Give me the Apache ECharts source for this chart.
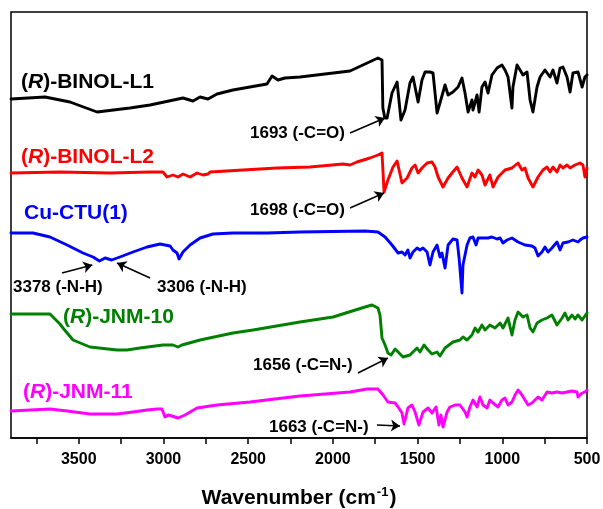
<!DOCTYPE html>
<html>
<head>
<meta charset="utf-8">
<script src="https://cdn.jsdelivr.net/npm/echarts@6/dist/echarts.min.js"></script>
<style>
  html, body { margin: 0; padding: 0; background: #fff; }
  #chart { width: 603px; height: 509px; }
</style>
</head>
<body>
<div id="chart"></div>
<script>
const FONT = 'Arial, "Liberation Sans", sans-serif';

// FTIR spectra: wavenumber (cm-1) and vertically offset transmittance (a.u.)
const wnL1 = [3900,3699,3552,3392,3198,3079,2885,2826,2784,2737,2684,2590,2389,2359,2324,2283,2194,1899,1810,1734,1710,1705,1693,1680,1651,1621,1598,1574,1545,1527,1497,1474,1456,1427,1409,1385,1368,1338,1320,1291,1261,1238,1220,1202,1179,1173,1149,1137,1120,1102,1084,1061,1031,1002,984,966,943,937,913,895,878,854,836,819,795,777,748,718,701,677,659,642,618,600,583,553,529,512,500];
const tL1 = [339,341,336,326,330,333,340,337,341,339,344,348,354,362,358,360,361,367,374,380,378,330,320,320,345,356,318,328,355,361,336,358,366,366,365,325,335,353,343,346,351,360,345,326,338,328,343,326,351,356,345,363,370,373,368,361,330,351,373,368,363,366,338,326,351,361,368,361,368,355,370,371,361,346,365,366,351,361,363];

const wnL2 = [3900,3611,3316,3079,3003,2979,2944,2914,2885,2843,2802,2767,2737,2725,2530,2330,2135,1940,1899,1858,1781,1734,1710,1698,1675,1645,1621,1592,1562,1533,1515,1497,1474,1444,1415,1397,1379,1350,1320,1297,1267,1238,1208,1179,1161,1143,1120,1102,1073,1055,1025,984,943,907,884,866,848,819,789,760,736,718,701,677,659,642,618,600,571,541,524,512,500];
const tL2 = [265,266,265,266,266,261,263,261,264,261,265,263,264,266,268,270,271,274,273,276,280,283,285,246,258,271,277,255,260,270,273,265,270,275,276,271,261,251,260,265,271,260,251,265,261,268,263,253,263,251,261,268,270,275,268,270,260,251,261,268,271,266,271,266,273,270,273,270,273,275,273,261,270];

const wnCTU = [3900,3770,3670,3569,3475,3416,3378,3345,3306,3257,3180,3097,3020,2961,2944,2920,2908,2885,2861,2843,2784,2708,2590,2389,2194,1810,1734,1692,1651,1615,1592,1574,1557,1545,1527,1503,1486,1468,1444,1427,1409,1385,1368,1356,1338,1320,1291,1267,1255,1238,1232,1208,1191,1173,1155,1143,1114,1084,1061,1031,1013,996,972,943,907,866,825,807,789,766,748,730,707,677,659,642,612,583,553,541,524,500];
const tCTU = [205,205,201,193,185,181,177,180,178,181,186,191,194,192,188,185,179,186,190,193,200,204,205,205,206,207,206,201,193,185,186,183,188,180,186,190,188,190,186,173,186,193,181,185,170,193,199,198,180,145,173,193,200,201,193,200,200,200,201,199,200,195,198,200,196,193,192,190,182,186,191,186,190,196,188,195,196,198,196,198,200,201];

const wnJ10 = [3900,3670,3611,3593,3534,3434,3274,3215,3139,3003,2944,2914,2891,2784,2590,2471,2194,1999,1810,1769,1734,1722,1710,1692,1675,1656,1633,1615,1586,1545,1503,1486,1462,1438,1415,1385,1368,1338,1291,1250,1232,1208,1179,1161,1143,1120,1102,1073,1043,1013,996,966,943,925,907,878,854,836,819,795,766,736,707,677,647,630,612,588,571,553,529,500];
const tJ10 = [124,124,114,110,98,91,88,88,90,93,93,91,93,98,105,108,116,121,131,133,130,123,100,93,85,83,89,86,81,83,90,86,93,88,84,86,82,90,96,98,101,98,103,110,106,113,108,113,110,115,110,120,103,118,126,121,123,110,106,115,118,120,123,113,120,125,118,123,119,123,118,125];

const wnJ11 = [3900,3670,3569,3434,3274,3180,3097,3038,3009,2991,2973,2950,2914,2873,2802,2684,2489,2294,2194,1899,1798,1734,1704,1675,1633,1615,1592,1580,1557,1533,1515,1492,1468,1438,1415,1391,1374,1362,1350,1326,1309,1279,1250,1220,1208,1191,1173,1149,1132,1114,1090,1073,1055,1025,1002,984,966,943,925,907,884,866,848,825,807,789,766,736,707,677,647,618,588,559,553,529,512,500];
const tJ11 = [27,29,27,24,24,26,28,29,29,21,23,22,20,23,30,33,36,40,42,46,49,49,43,36,35,31,25,14,30,33,26,13,26,30,25,31,13,23,11,26,31,33,33,26,21,31,38,31,41,33,30,38,35,31,38,40,33,36,43,48,43,38,33,35,38,41,38,46,45,46,45,46,47,46,41,45,46,48];

// x-axis tick labels (every other tick is unlabelled)
const tickLabels = [500, 1000, 1500, 2000, 2500, 3000, 3500];

// band assignments: [series key, arrow tail (wn, t), arrow head (wn, t)]
const bandArrows = [
  ['L1',  [1899, 305], [1693, 320]],
  ['L2',  [1899, 230], [1698, 245]],
  ['CTU', [3599, 165], [3420, 173]],
  ['CTU', [3079, 160], [3274, 175]],
  ['J10', [1852, 65],  [1675, 80]],
  ['J11', [1740, 13],  [1604, 12]]
];

const spectra = [
  { key: 'L1',  wn: wnL1,  t: tL1,  color: '#000000' },
  { key: 'L2',  wn: wnL2,  t: tL2,  color: '#ff0000' },
  { key: 'CTU', wn: wnCTU, t: tCTU, color: '#0000ff' },
  { key: 'J10', wn: wnJ10, t: tJ10, color: '#008000' },
  { key: 'J11', wn: wnJ11, t: tJ11, color: '#ff00ff' }
];

const series = spectra.map(s => ({
  type: 'line',
  name: s.key,
  data: s.wn.map((w, i) => [w, s.t[i]]),
  showSymbol: false,
  symbol: 'none',
  smooth: false,
  lineStyle: { color: s.color, width: 2.9, join: 'round', cap: 'round' },
  silent: true,
  z: 3,
  markLine: {
    silent: true,
    animation: false,
    symbol: ['none', 'arrow'],
    symbolSize: 9,
    label: { show: false },
    lineStyle: { color: '#000', width: 1.5, type: 'solid' },
    data: bandArrows.filter(a => a[0] === s.key).map(a => [
      { coord: a[1] }, { coord: a[2] }
    ])
  }
}));

function nameText(parts, x, y, color) {
  return {
    type: 'text', x: x, y: y, z: 10, silent: true,
    style: {
      text: parts, fill: color,
      font: 'bold 21px ' + FONT,
      verticalAlign: 'middle', align: 'left',
      rich: {
        n: { fontSize: 21, fontWeight: 'bold', fontFamily: FONT, fill: color },
        i: { fontSize: 21, fontWeight: 'bold', fontStyle: 'italic', fontFamily: FONT, fill: color }
      }
    }
  };
}
function noteText(text, x, y) {
  return {
    type: 'text', x: x, y: y, z: 10, silent: true,
    style: { text: text, fill: '#000', font: 'bold 17px ' + FONT, verticalAlign: 'middle', align: 'left' }
  };
}

const chart = echarts.init(document.getElementById('chart'), null, { renderer: 'canvas' });
chart.setOption({
  animation: false,
  backgroundColor: '#fff',
  grid: {
    left: 11, right: 16, top: 12, bottom: 71,
    containLabel: false, outerBoundsMode: 'none',
    show: true, borderColor: '#000', borderWidth: 1.5, backgroundColor: 'transparent'
  },
  xAxis: {
    type: 'value', min: 500, max: 3900, interval: 250, inverse: true,
    name: '{a|Wavenumber (cm}{s|-1}{a|)}',
    nameLocation: 'middle', nameGap: 48,
    nameTextStyle: {
      rich: {
        a: { fontSize: 21, fontWeight: 'bold', fontFamily: FONT, color: '#000', lineHeight: 24 },
        s: { fontSize: 13, fontWeight: 'bold', fontFamily: FONT, color: '#000', verticalAlign: 'top', lineHeight: 24, padding: [0, 1, 10, 1] }
      }
    },
    axisLine: { show: true, lineStyle: { color: '#000', width: 1.5 } },
    axisTick: { show: true, inside: false, length: 6, lineStyle: { color: '#000', width: 1.5 } },
    splitLine: { show: false },
    axisLabel: {
      margin: 14, color: '#000', fontSize: 16, fontWeight: 'bold', fontFamily: FONT,
      showMinLabel: true, showMaxLabel: false,
      formatter: v => (tickLabels.indexOf(v) >= 0 ? String(v) : '')
    }
  },
  yAxis: {
    type: 'value', min: 0, max: 426, show: false
  },
  series: series,
  graphic: [
    nameText('{n|(}{i|R}{n|)-BINOL-L1}', 21, 82, '#000000'),
    nameText('{n|(}{i|R}{n|)-BINOL-L2}', 21, 157, '#ff0000'),
    nameText('{n|Cu-CTU(1)}', 24, 213, '#0000ff'),
    nameText('{n|(}{i|R}{n|)-JNM-10}', 63, 317, '#008000'),
    nameText('{n|(}{i|R}{n|)-JNM-11}', 23, 392, '#ff00ff'),
    noteText('1693 (-C=O)', 250, 133),
    noteText('1698 (-C=O)', 250, 210),
    noteText('3378 (-N-H)', 13, 287),
    noteText('3306 (-N-H)', 157, 287),
    noteText('1656 (-C=N-)', 253, 365),
    noteText('1663 (-C=N-)', 269, 427)
  ]
});
</script>
</body>
</html>
